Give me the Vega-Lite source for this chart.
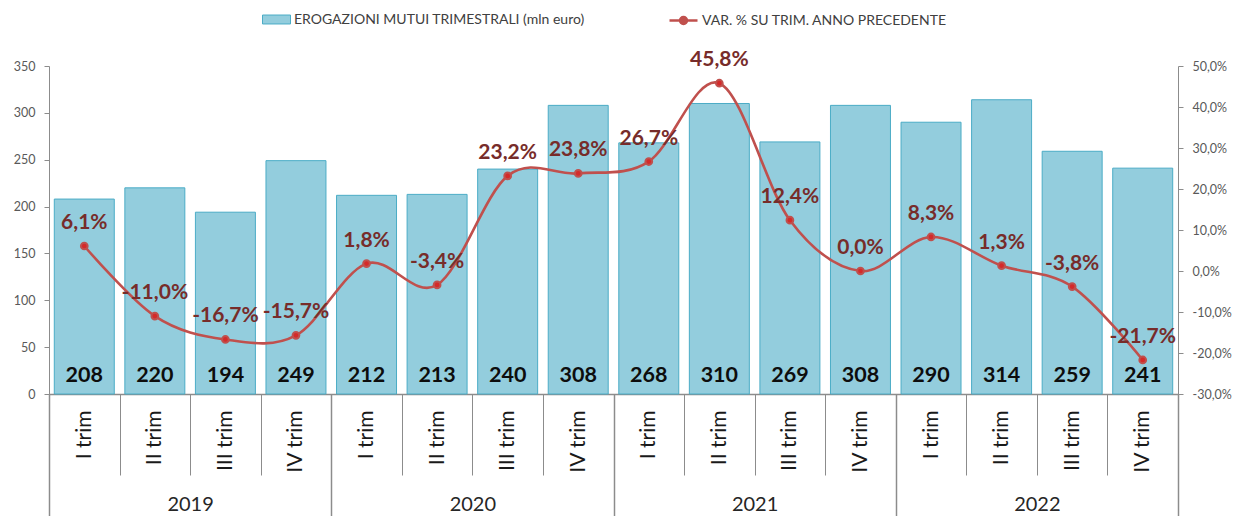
{
  "$schema": "https://vega.github.io/schema/vega-lite/v6.json",
  "width": 1129,
  "height": 328,
  "autosize": {"type": "none"},
  "padding": {"left": 49, "top": 66, "right": 64, "bottom": 122},
  "config": {
    "font": "Lato",
    "view": {"stroke": null},
    "locale": {"number": {"decimal": ",", "thousands": ".", "grouping": [3], "currency": ["", " €"], "minus": "-"}}
  },
  "data": {
    "values": [
      {"key": "2019|I trim", "year": "2019", "value": 208, "pct": 0.061},
      {"key": "2019|II trim", "year": "2019", "value": 220, "pct": -0.110},
      {"key": "2019|III trim", "year": "2019", "value": 194, "pct": -0.167},
      {"key": "2019|IV trim", "year": "2019", "value": 249, "pct": -0.157},
      {"key": "2020|I trim", "year": "2020", "value": 212, "pct": 0.018},
      {"key": "2020|II trim", "year": "2020", "value": 213, "pct": -0.034},
      {"key": "2020|III trim", "year": "2020", "value": 240, "pct": 0.232},
      {"key": "2020|IV trim", "year": "2020", "value": 308, "pct": 0.238},
      {"key": "2021|I trim", "year": "2021", "value": 268, "pct": 0.267},
      {"key": "2021|II trim", "year": "2021", "value": 310, "pct": 0.458},
      {"key": "2021|III trim", "year": "2021", "value": 269, "pct": 0.124},
      {"key": "2021|IV trim", "year": "2021", "value": 308, "pct": 0.0},
      {"key": "2022|I trim", "year": "2022", "value": 290, "pct": 0.083},
      {"key": "2022|II trim", "year": "2022", "value": 314, "pct": 0.013},
      {"key": "2022|III trim", "year": "2022", "value": 259, "pct": -0.038},
      {"key": "2022|IV trim", "year": "2022", "value": 241, "pct": -0.217}
    ]
  },
  "layer": [
    {
      "layer": [
        {
          "encoding": {
            "x": {
              "field": "key", "type": "nominal", "sort": null,
              "scale": {"paddingInner": 0, "paddingOuter": 0},
              "axis": {
                "title": null, "orient": "bottom",
                "labelExpr": "split(datum.label, '|')[1]",
                "labelAngle": -90, "labelAlign": "right", "labelBaseline": "middle",
                "labelFontSize": 21, "labelColor": "#1a1a1a",
                "labelPadding": -65,
                "tickBand": "extent", "tickSize": 81, "tickColor": "#8c8c8c", "tickWidth": 1,
                "domainColor": "#8c8c8c", "domainWidth": 1.5
              }
            }
          },
          "layer": [
            {
              "mark": {"type": "bar", "width": {"band": 0.85}, "stroke": "#4BACC6", "strokeWidth": 1},
              "encoding": {
                "y": {
                  "field": "value", "type": "quantitative",
                  "scale": {"domain": [0, 350], "nice": false},
                  "axis": {
                    "title": null, "orient": "left", "values": [0, 50, 100, 150, 200, 250, 300, 350],
                    "grid": false, "labelFontSize": 12.5, "labelColor": "#595959", "labelPadding": 9,
                    "tickSize": 5, "tickColor": "#8c8c8c", "domainColor": "#8c8c8c"
                  }
                },
                "fill": {
                  "datum": "EROGAZIONI MUTUI TRIMESTRALI (mln euro)",
                  "scale": {"range": ["#93CDDD"]},
                  "legend": {
                    "title": null, "orient": "none", "legendX": 213, "legendY": -61,
                    "padding": 0,
                    "symbolType": "M-1,-0.32H1V0.32H-1Z", "symbolSize": 784,
                    "symbolStrokeColor": "#4BACC6", "symbolStrokeWidth": 1,
                    "labelFontSize": 14, "labelColor": "#404040", "labelOffset": 3, "labelLimit": 500
                  }
                }
              }
            },
            {
              "mark": {"type": "text", "fontWeight": "bold", "fontSize": 21.5, "color": "#0d0d0d", "baseline": "middle", "dy": -18},
              "encoding": {
                "y": {"datum": 0, "type": "quantitative"},
                "text": {"field": "value", "type": "quantitative"}
              }
            }
          ]
        },
        {
          "encoding": {
            "x": {"field": "key", "type": "nominal", "sort": null},
            "y": {
              "field": "pct", "type": "quantitative",
              "scale": {"domain": [-0.3, 0.5], "nice": false},
              "axis": {
                "title": null, "orient": "right", "values": [-0.3, -0.2, -0.1, 0, 0.1, 0.2, 0.3, 0.4, 0.5],
                "format": ".1%", "grid": false, "labelFontSize": 12.5, "labelColor": "#595959", "labelPadding": 9,
                "tickSize": 5, "tickColor": "#8c8c8c", "domainColor": "#8c8c8c"
              }
            }
          },
          "layer": [
            {
              "mark": {"type": "line", "interpolate": "cardinal", "strokeWidth": 2.6},
              "encoding": {
                "stroke": {
                  "datum": "VAR. % SU TRIM. ANNO PRECEDENTE",
                  "scale": {"range": ["#C0504D"]},
                  "legend": {
                    "title": null, "orient": "none", "legendX": 619, "legendY": -61,
                    "padding": 0,
                    "symbolType": "M-1,0H1M-0.25,0A0.25,0.25 0 1,1 0.25,0A0.25,0.25 0 1,1 -0.25,0",
                    "symbolSize": 784, "symbolStrokeWidth": 2.5, "symbolFillColor": "#C0504D",
                    "labelFontSize": 14, "labelColor": "#404040", "labelOffset": 3, "labelLimit": 500,
                    "encode": {"symbols": {"update": {"fill": {"value": "#C0504D"}}}}
                  }
                }
              }
            },
            {
              "mark": {"type": "point", "shape": "circle", "filled": true, "size": 45, "fill": "#D42A2A", "stroke": "#C0504D", "strokeWidth": 2, "opacity": 1}
            },
            {
              "mark": {"type": "text", "fontWeight": "bold", "fontSize": 21, "color": "#772C2A", "baseline": "middle", "dy": -23},
              "encoding": {
                "text": {"field": "pct", "type": "quantitative", "format": ".1%"}
              }
            }
          ]
        }
      ],
      "resolve": {"scale": {"y": "independent"}}
    },
    {
      "mark": {"type": "rule", "opacity": 0},
      "encoding": {
        "x": {
          "field": "year", "type": "nominal", "sort": null,
          "scale": {"paddingInner": 0, "paddingOuter": 0},
          "axis": {
            "title": null, "orient": "bottom", "labelAngle": 0, "labelBaseline": "top",
            "labelFontSize": 20, "labelColor": "#262626", "labelPadding": -22,
            "tickBand": "extent", "tickSize": 122, "tickColor": "#8c8c8c", "tickWidth": 1.5,
            "domain": false
          }
        }
      }
    }
  ],
  "resolve": {"scale": {"x": "independent"}}
}
